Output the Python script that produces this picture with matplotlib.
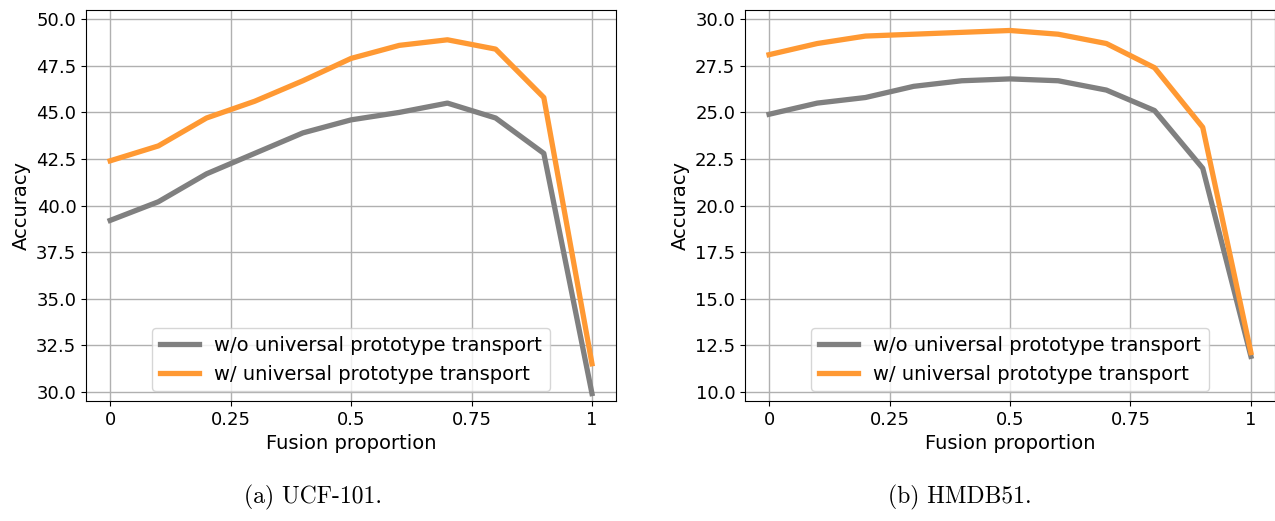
import matplotlib
matplotlib.use("Agg")
import matplotlib.pyplot as plt

FUSION = [0, 0.1, 0.2, 0.3, 0.4, 0.5, 0.6, 0.7, 0.8, 0.9, 1.0]
XTICKS = [0, 0.25, 0.5, 0.75, 1]
XTICK_LABELS = ["0", "0.25", "0.5", "0.75", "1"]

# UCF-101
UCF_WO = [39.2, 40.2, 41.7, 42.8, 43.9, 44.6, 45.0, 45.5, 44.7, 42.8, 29.9]
UCF_W = [42.4, 43.2, 44.7, 45.6, 46.7, 47.9, 48.6, 48.9, 48.4, 45.8, 31.5]

# HMDB51
HMDB_WO = [24.9, 25.5, 25.8, 26.4, 26.7, 26.8, 26.7, 26.2, 25.1, 22.0, 11.9]
HMDB_W = [28.1, 28.7, 29.1, 29.2, 29.3, 29.4, 29.2, 28.7, 27.4, 24.2, 12.1]

LABEL_WO = "w/o universal prototype transport"
LABEL_W = "w/ universal prototype transport"
CAPTIONS = ["(a) UCF-101.", "(b) HMDB51."]
CAPTION_X = [0.2455, 0.753]

GRAY = "#808080"
ORANGE = "#FF9933"

fig = plt.figure(figsize=(12.75, 5.21), dpi=100)
axes = [
    fig.add_axes([0.0675, 0.2303, 0.4157, 0.7505]),
    fig.add_axes([0.5843, 0.2303, 0.4157, 0.7505]),
]

panels = [
    (UCF_WO, UCF_W, (29.5, 50.5), [30.0 + 2.5 * i for i in range(9)]),
    (HMDB_WO, HMDB_W, (9.5, 30.5), [10.0 + 2.5 * i for i in range(9)]),
]

for ax, (wo, w, ylim, yticks), cap, cx in zip(axes, panels, CAPTIONS, CAPTION_X):
    ax.plot(FUSION, wo, color=GRAY, linewidth=3.8, label=LABEL_WO)
    ax.plot(FUSION, w, color=ORANGE, linewidth=3.8, label=LABEL_W)
    ax.set_xlim(-0.05, 1.05)
    ax.set_ylim(*ylim)
    ax.set_xticks(XTICKS)
    ax.set_xticklabels(XTICK_LABELS)
    ax.set_yticks(yticks)
    ax.set_yticklabels([f"{v:.1f}" for v in yticks])
    ax.tick_params(labelsize=13)
    ax.grid(True, color="#b0b0b0", linewidth=1)
    ax.set_axisbelow(True)
    ax.set_xlabel("Fusion proportion", fontsize=14)
    ax.set_ylabel("Accuracy", fontsize=14)
    ax.legend(loc="lower center", fontsize=14, handlelength=2.0)
    fig.text(cx, 0.046, cap, ha="center", va="center",
             fontsize=17, family="cmr10")

fig.savefig("out.png", dpi=100)
